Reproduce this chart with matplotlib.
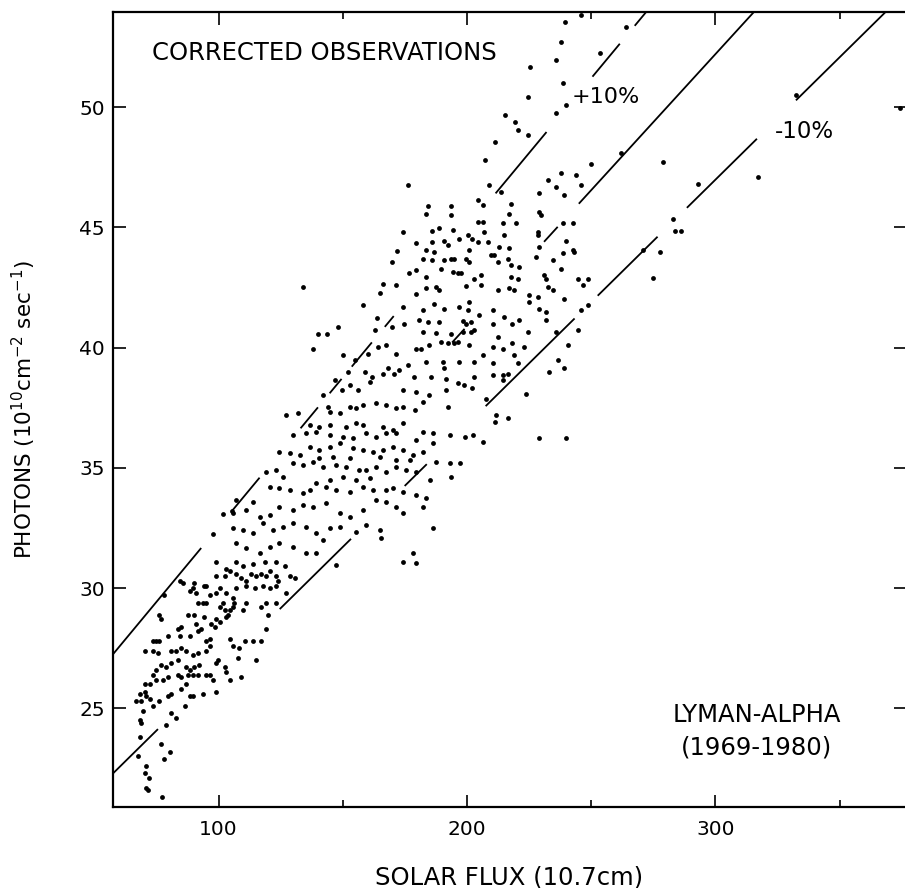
import matplotlib
matplotlib.use('Agg')
import matplotlib.pyplot as plt

# Lyman-alpha photons vs 10.7 cm solar flux

# low flux end of the cloud (x < ~130)
cloud_low = [
    (71.5, 21.6), (70.9, 21.7), (77.3, 21.3), (70.2, 22.3), (71.9, 22.1), (70.6, 22.6), (67.5, 23.0),
    (78.2, 22.9), (76.9, 23.5), (80.3, 23.2), (68.2, 23.8), (78.9, 24.3), (68.8, 24.4), (68.2, 24.5),
    (80.9, 24.8), (82.9, 24.6), (69.5, 24.9), (86.3, 25.1), (73.5, 25.1), (66.8, 25.3), (68.9, 25.3),
    (70.9, 25.5), (72.2, 25.4), (68.2, 25.6), (70.2, 25.7), (76.2, 25.3), (79.6, 25.5), (80.9, 25.6),
    (88.3, 25.5), (89.7, 25.5), (93.7, 25.6), (99.1, 25.7), (85.0, 25.8), (87.0, 26.0), (70.2, 26.0),
    (72.2, 26.0), (74.9, 26.2), (73.5, 26.4), (77.6, 26.2), (79.6, 26.3), (83.6, 26.4), (85.0, 26.3),
    (87.6, 26.4), (89.7, 26.4), (91.7, 26.4), (95.0, 26.4), (96.4, 26.4), (97.7, 26.2), (103.1, 26.5),
    (104.4, 26.2), (109.1, 26.3), (74.9, 26.6), (76.9, 26.8), (78.9, 26.7), (80.9, 26.9), (83.6, 27.0),
    (87.0, 26.7), (88.3, 26.6), (90.3, 26.7), (92.3, 26.8), (99.1, 26.9), (99.7, 27.0), (102.4, 26.7),
    (70.2, 27.4), (73.5, 27.4), (75.6, 27.3), (80.9, 27.4), (82.9, 27.4), (85.0, 27.5), (87.0, 27.4),
    (89.7, 27.2), (91.7, 27.3), (95.0, 27.4), (96.4, 27.6), (73.5, 27.8), (74.9, 27.8), (76.2, 27.8),
    (79.6, 28.0), (83.6, 28.3), (84.3, 28.0), (88.3, 28.0), (95.0, 27.8), (96.4, 27.9), (104.4, 27.9),
    (105.8, 27.6), (108.4, 27.5), (110.5, 27.8), (113.8, 27.8), (117.2, 27.8), (115.2, 27.0), (107.8, 27.1),
    (85.0, 28.4), (91.0, 28.5), (93.0, 28.3), (91.7, 28.2), (97.0, 28.5), (98.4, 28.4), (99.1, 28.7),
    (100.4, 28.6), (76.2, 28.9), (76.9, 28.7), (87.6, 28.9), (90.3, 28.9), (94.3, 28.8), (103.1, 28.8),
    (103.8, 28.9), (104.4, 29.1), (119.2, 28.3), (119.9, 28.9), (117.2, 29.2), (119.2, 29.4), (123.2, 29.4),
    (127.2, 29.8), (91.7, 29.4), (93.7, 29.4), (95.0, 29.4), (101.7, 29.4), (100.4, 29.2), (102.4, 29.1),
    (105.8, 29.2), (106.4, 29.4), (109.8, 29.1), (111.1, 29.4), (78.2, 29.7), (88.3, 29.9), (91.0, 29.8),
    (89.7, 30.0), (95.0, 30.1), (96.4, 29.7), (99.1, 29.8), (100.4, 30.0), (103.1, 29.8), (105.8, 29.6),
    (107.1, 30.0), (111.1, 30.1), (114.5, 30.0), (117.8, 30.1), (120.5, 30.0), (123.2, 30.1), (123.9, 30.3),
    (84.3, 30.3), (85.6, 30.2), (90.3, 30.2), (94.3, 30.1), (99.1, 30.5), (102.4, 30.5), (104.4, 30.7),
    (107.1, 30.6), (109.1, 30.4), (111.1, 30.3), (113.1, 30.6), (115.2, 30.5), (117.2, 30.6), (119.2, 30.5),
    (120.5, 30.7), (123.2, 30.5), (126.6, 30.9), (128.6, 30.5), (130.6, 30.4), (99.1, 31.1), (103.1, 30.8),
    (107.1, 31.1), (109.8, 30.9), (113.8, 31.0), (118.5, 31.1), (123.2, 31.1),
    (97.8, 32.27), (101.9, 33.10), (105.2, 33.21),
]

# middle of the cloud (~105-195)
cloud_mid = [
    (144.0, 37.54), (144.7, 37.33), (148.7, 37.27), (152.7, 37.54), (155.4, 37.47), (158.1, 37.61),
    (163.5, 37.68), (167.5, 37.61), (171.5, 37.47), (174.2, 37.54), (178.9, 37.40), (182.3, 37.75),
    (192.3, 37.54), (127.2, 37.20), (131.9, 37.27),
    (136.6, 36.78), (140.6, 36.71), (144.7, 36.78), (151.4, 36.71), (155.4, 36.85), (158.1, 36.78),
    (166.1, 36.71), (170.2, 36.57), (174.2, 36.85), (182.3, 36.50), (186.3, 36.43), (193.0, 36.36),
    (129.9, 36.36), (135.3, 36.43), (139.3, 36.50), (144.7, 36.36), (150.0, 36.30), (154.1, 36.23),
    (159.4, 36.43), (163.5, 36.30), (167.5, 36.43), (171.5, 36.43), (179.6, 36.16),
    (124.5, 35.67), (128.6, 35.60), (132.6, 35.53), (136.6, 35.88), (140.6, 35.74), (144.7, 35.88),
    (148.7, 36.02), (154.1, 35.81), (158.1, 35.74), (162.1, 35.67), (166.1, 35.74), (170.2, 35.88),
    (174.2, 35.74), (178.2, 35.53), (182.3, 35.67), (186.3, 36.02), (140.6, 35.39), (146.0, 35.46),
    (152.7, 35.39), (164.8, 35.46), (171.5, 35.33), (176.9, 35.33),
    (119.2, 34.84), (123.2, 34.91), (125.9, 34.63), (129.9, 35.19), (133.9, 35.12), (137.9, 35.26),
    (142.0, 35.05), (147.4, 35.12), (151.4, 35.05), (156.7, 34.91), (159.4, 34.91), (163.5, 35.05),
    (167.5, 34.84), (171.5, 35.05), (175.5, 34.91), (179.6, 34.84), (187.6, 35.26), (193.0, 35.19),
    (197.0, 35.19), (184.9, 34.49), (193.7, 34.63), (144.7, 34.49), (150.0, 34.63), (155.4, 34.49),
    (160.8, 34.56),
    (107.1, 33.66), (113.8, 33.59), (120.5, 34.22), (124.5, 34.15), (128.6, 34.08), (133.9, 33.94),
    (136.6, 34.08), (139.3, 34.36), (143.3, 34.22), (147.4, 34.08), (152.7, 34.01), (158.1, 34.22),
    (162.1, 34.08), (167.5, 34.08), (170.2, 34.15), (174.2, 34.01), (179.6, 33.87), (183.6, 33.73),
    (105.7, 33.11), (111.1, 33.25), (116.5, 32.97), (120.5, 33.04), (124.5, 33.38), (129.9, 33.25),
    (133.9, 33.45), (137.9, 33.38), (143.3, 33.52), (148.7, 33.11), (152.7, 32.97), (158.1, 33.25),
    (163.5, 33.66), (167.5, 33.59), (171.5, 33.38), (174.2, 33.11), (182.3, 33.38),
    (105.7, 32.48), (109.8, 32.41), (113.8, 32.28), (117.8, 32.69), (121.9, 32.41), (125.9, 32.55),
    (129.9, 32.69), (135.3, 32.55), (139.3, 32.28), (144.7, 32.48), (148.7, 32.55), (155.4, 32.35),
    (159.4, 32.62), (164.8, 32.41), (165.5, 32.07), (186.3, 32.48),
    (107.1, 31.86), (111.1, 31.65), (116.5, 31.44), (120.5, 31.72), (124.5, 31.86), (129.9, 31.72),
    (135.3, 31.44), (139.3, 31.44), (142.0, 32.00), (147.4, 30.96), (174.2, 31.10), (178.2, 31.44),
    (179.6, 31.03),
    (158.2, 41.76), (163.6, 41.21), (140.1, 40.58), (143.5, 40.58), (148.2, 40.86), (138.1, 39.96),
    (162.9, 40.72), (150.2, 39.68), (154.9, 39.48), (158.9, 38.99), (161.6, 38.78), (146.8, 38.64),
    (142.1, 38.02), (149.5, 38.23), (152.9, 38.44), (156.2, 38.23), (160.9, 38.57), (164.3, 40.03),
    (160.3, 39.75), (152.2, 38.99), (133.8, 42.52), (164.8, 42.27),
]

# upper part of the cloud (~165-250)
cloud_high = [
    (176.1, 46.75), (209.0, 46.75), (213.7, 46.47), (229.1, 46.41), (235.8, 46.68), (239.2, 46.34),
    (245.9, 46.75), (184.1, 45.88), (193.5, 45.88), (204.3, 46.13), (206.3, 45.92), (217.7, 45.96),
    (183.4, 45.57), (193.5, 45.50), (217.0, 45.57), (229.1, 45.64), (229.8, 45.50),
    (204.3, 45.23), (206.3, 45.23), (214.3, 45.16), (219.7, 45.16), (238.5, 45.16), (242.5, 45.16),
    (174.1, 44.81), (186.1, 44.85), (188.8, 44.95), (194.2, 44.88), (206.9, 44.81), (215.0, 44.67),
    (228.4, 44.81), (228.4, 44.67), (239.8, 44.44), (242.5, 44.05), (243.2, 43.98),
    (179.4, 44.33), (186.1, 44.40), (190.8, 44.44), (192.2, 44.26), (196.9, 44.53), (200.2, 44.67),
    (202.2, 44.53), (204.3, 44.40), (208.3, 44.40), (213.0, 44.19), (217.0, 44.12), (229.1, 44.19),
    (238.5, 43.94), (172.0, 44.02), (183.4, 44.05), (186.8, 43.98),
    (170.0, 43.56), (182.1, 43.70), (186.1, 43.66), (190.8, 43.66), (193.5, 43.70), (194.9, 43.70),
    (199.6, 43.70), (200.9, 44.05), (200.9, 43.56), (209.6, 43.84), (211.0, 43.84), (212.3, 43.56),
    (216.3, 43.70), (217.7, 43.43), (221.0, 43.36), (227.7, 43.77), (234.5, 43.63), (237.8, 43.25),
    (176.7, 43.08), (179.4, 43.22), (183.4, 42.94), (189.5, 43.25), (194.2, 43.15), (196.2, 43.08),
    (197.5, 43.11), (202.9, 42.83), (205.6, 43.01), (217.7, 42.94), (220.4, 42.84), (231.1, 43.01),
    (231.8, 42.87), (244.5, 42.87), (248.6, 42.84), (246.5, 42.59),
    (171.4, 42.59), (187.5, 42.52), (188.8, 42.39), (183.4, 42.46), (199.6, 42.55), (205.6, 42.59),
    (212.3, 42.39), (217.0, 42.46), (219.0, 42.39), (225.1, 42.18), (228.4, 42.11), (232.4, 42.52),
    (234.5, 42.39), (239.2, 42.00), (166.0, 42.66),
    (179.4, 42.22), (186.8, 41.83), (190.8, 41.62), (174.1, 41.69), (182.1, 41.55), (196.9, 41.69),
    (200.2, 41.58), (200.9, 41.90), (204.9, 41.35), (210.3, 41.58), (215.0, 41.28), (225.1, 41.90),
    (229.1, 41.62), (231.8, 41.49), (231.8, 41.14), (245.9, 41.55), (248.6, 41.76),
    (170.0, 40.86), (174.7, 41.00), (180.8, 41.14), (184.1, 41.07), (188.8, 41.07), (198.2, 41.11),
    (199.6, 41.00), (201.6, 41.07), (202.9, 40.72), (210.3, 41.00), (218.3, 41.00), (221.0, 41.14),
    (182.1, 40.65), (187.5, 40.61), (193.5, 40.58), (198.2, 40.65), (201.6, 40.65), (212.3, 40.45),
    (224.4, 40.65), (235.8, 40.65), (240.5, 40.10), (244.5, 40.72),
    (167.3, 40.10), (171.4, 39.75), (179.4, 39.96), (181.4, 39.96), (184.8, 40.10), (189.5, 40.24),
    (192.2, 40.17), (194.9, 40.17), (196.2, 40.24), (200.9, 40.10), (206.3, 39.68), (210.3, 40.03),
    (214.3, 39.96), (218.3, 40.17), (219.0, 39.68), (223.0, 40.03), (236.5, 39.48), (239.2, 39.13),
    (233.1, 38.99),
    (168.0, 39.13), (172.7, 39.06), (176.1, 39.27), (183.4, 39.41), (190.2, 39.41), (190.8, 39.13),
    (196.9, 39.41), (202.9, 39.41), (210.3, 39.34), (220.4, 39.34), (166.0, 38.92), (170.7, 38.92),
    (178.8, 38.78), (185.5, 38.78), (191.5, 38.71), (196.2, 38.51), (198.9, 38.44), (202.9, 38.78),
    (210.3, 38.85), (214.3, 38.85), (216.3, 38.92), (214.3, 38.64), (223.7, 38.09),
    (174.1, 38.23), (179.4, 38.16), (184.8, 38.02), (191.5, 38.23), (202.2, 38.30), (207.6, 37.88),
    (211.6, 37.19), (216.3, 37.09),
    (199.2, 36.29), (202.5, 36.36), (206.5, 36.08), (229.0, 36.22), (239.7, 36.22), (211.2, 36.91),
]

# sparse points at high flux
cloud_top = [
    (239.3, 53.55), (246.0, 53.83), (264.1, 53.34), (238.0, 52.72), (235.9, 51.96), (225.2, 51.68),
    (253.4, 52.23), (238.6, 50.98), (224.5, 50.43), (240.0, 50.08), (235.9, 49.74), (215.1, 49.67),
    (219.2, 49.39), (220.5, 49.04), (224.5, 48.84), (211.1, 48.56), (207.1, 47.80), (332.6, 50.50),
    (374.2, 49.95), (262.1, 48.07), (278.9, 47.70), (250.0, 47.63), (317.1, 47.10), (293.0, 46.80),
    (282.9, 45.33), (283.6, 44.85), (286.3, 44.85), (270.8, 44.06), (277.6, 43.99), (274.9, 42.88),
    (238.0, 47.24), (244.0, 47.17), (232.6, 46.97),
]

# reference line: photons = a + b * flux, drawn with +/-10% bands
fit_a = 18.27
fit_b = 0.1131
band_factors = [1.10, 1.00, 0.90]
# pieces of each line that are visible in the original
band_pieces = [
    [(57.5, 93), (105.6, 116.5), (133, 140), (144.7, 149.5), (153.6, 161.7), (166.9, 170.5),
     (211.5, 232), (250.5, 261.5), (267.5, 273)],
    [(194, 199), (231, 236.5), (245, 320)],
    [(57.5, 75.6), (124.6, 153.3), (174.9, 183.8), (207.5, 243.3), (252.6, 276.7), (288.5, 316.7),
     (332.4, 373)],
]

x_major = [100, 200, 300]
x_minor = [150, 250, 350]
y_major = [25, 30, 35, 40, 45, 50]

points = cloud_low + cloud_mid + cloud_high + cloud_top
flux = [p[0] for p in points]
photons = [p[1] for p in points]

fig = plt.figure(figsize=(9.05, 8.88), dpi=100)
ax = fig.add_axes([113 / 905, 81 / 888, 793 / 905, 795 / 888])

ax.scatter(flux, photons, s=12, color='black', linewidths=0, zorder=3)

for fac, pieces in zip(band_factors, band_pieces):
    for x0, x1 in pieces:
        xs = [x0, x1]
        ys = [fac * (fit_a + fit_b * x) for x in xs]
        ax.plot(xs, ys, color='black', lw=1.3, solid_capstyle='butt', zorder=2)

ax.set_xlim(57.5, 376.7)
ax.set_ylim(20.9, 53.95)
ax.set_xticks(x_major)
ax.set_xticks(x_minor, minor=True)
ax.set_yticks(y_major)

for sp in ax.spines.values():
    sp.set_linewidth(1.6)

ax.tick_params(which='both', direction='in', top=True, right=True, width=1.2)
ax.tick_params(which='major', length=9, labelsize=14.5)
ax.tick_params(which='minor', length=5)
ax.tick_params(axis='x', pad=9)
ax.tick_params(axis='y', pad=6)

ax.set_xlabel('SOLAR FLUX (10.7cm)', fontsize=17.5)
ax.set_ylabel('PHOTONS (10$^{10}$cm$^{-2}$ sec$^{-1}$)', fontsize=15.5)
ax.xaxis.set_label_coords(0.5, -0.073)
ax.yaxis.set_label_coords(-0.095, 0.5)

ax.text(73, 52.25, 'CORRECTED OBSERVATIONS', fontsize=17.5, ha='left', va='center')
ax.text(242, 50.4, '+10%', fontsize=16, ha='left', va='center')
ax.text(323.8, 49.0, '-10%', fontsize=16.5, ha='left', va='center')
ax.text(316.5, 24.72, 'LYMAN-ALPHA', fontsize=17.5, ha='center', va='center')
ax.text(316.5, 23.39, '(1969-1980)', fontsize=17.5, ha='center', va='center')

fig.savefig('out.png', dpi=100)
